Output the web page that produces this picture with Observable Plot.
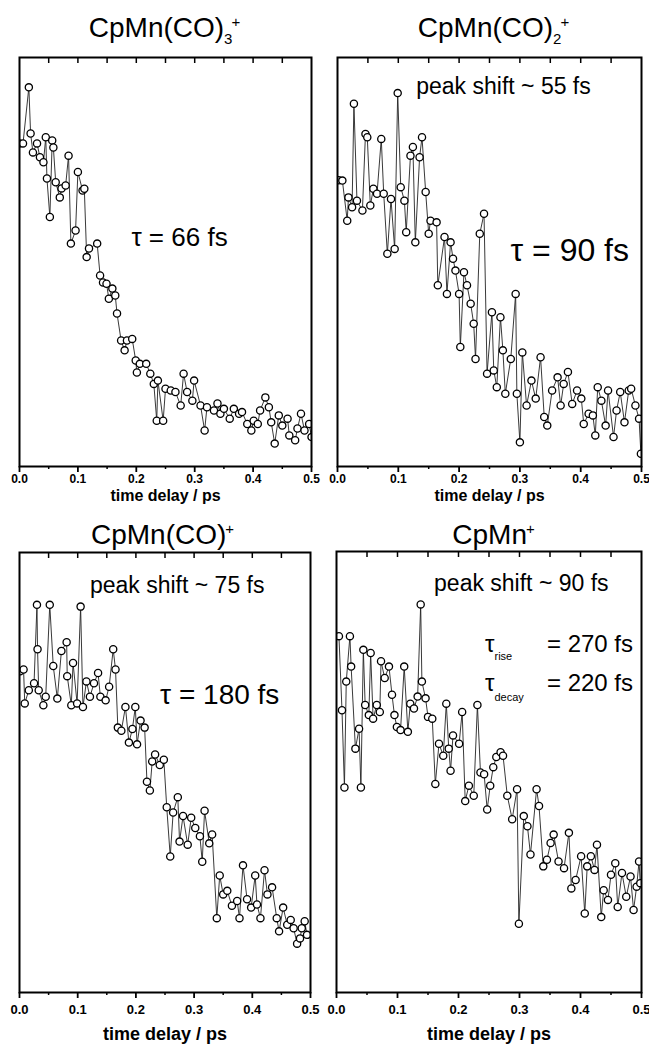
<!DOCTYPE html>
<html><head><meta charset="utf-8">
<script src="https://cdn.jsdelivr.net/npm/d3@7"></script>
<script src="https://cdn.jsdelivr.net/npm/@observablehq/plot@0.6"></script>
<style>
body{margin:0;background:#fff;}
#wrap{position:relative;width:649px;height:1053px;font-family:"Liberation Sans",Arial,sans-serif;color:#000;}
.title{position:absolute;width:325px;text-align:center;font-size:28px;line-height:1;white-space:nowrap;}
.title sub,.title sup{font-size:15px;line-height:0;}
.title sup{margin-left:-1px;}
.panel{position:absolute;}
</style></head><body><div id="wrap"></div>
<script>
// ---- data (signal in arbitrary units, 0 = bottom of frame, 100 = top) ----
const xLabel = "time delay / ps";
const majorTicks = [0, 0.1, 0.2, 0.3, 0.4, 0.5];
const minorTicks = [0.05, 0.15, 0.25, 0.35, 0.45];
const topTicks = [0.05, 0.1, 0.15, 0.2, 0.25, 0.3, 0.35, 0.4, 0.45];

// CpMn(CO)3+
const t1 = [0.000,0.006,0.016,0.019,0.023,0.030,0.035,0.041,0.045,0.047,0.052,0.056,0.058,0.062,0.069,0.072,0.079,0.084,0.088,0.096,0.100,0.108,0.111,0.115,0.119,0.133,0.138,0.143,0.149,0.153,0.159,0.164,0.167,0.174,0.180,0.184,0.193,0.199,0.201,0.206,0.217,0.224,0.230,0.235,0.237,0.246,0.250,0.259,0.267,0.276,0.281,0.287,0.296,0.299,0.310,0.317,0.321,0.333,0.339,0.344,0.350,0.360,0.367,0.376,0.381,0.390,0.397,0.401,0.408,0.412,0.421,0.427,0.431,0.437,0.444,0.450,0.459,0.462,0.472,0.476,0.482,0.488,0.496,0.500];
const v1 = [79,79,92.7,81.4,76.8,79,75.6,74.4,80.5,70.4,61,79.7,78,69.5,65.8,68,68.7,76,54.5,57.7,72,67.5,67.9,51.2,53.3,54.5,46.7,45,44.7,41,43.5,41.8,37.4,30.8,28.4,30.8,31.2,25.9,23,25.1,25.1,22.7,20.2,11.2,21,11.2,19,18.6,18.2,14.9,22.7,18.2,16.1,21,14.9,8.8,14.5,13.7,15.4,12.9,14.1,11.7,14.1,12.9,13.3,10.4,8.8,11.2,10.4,13.7,16.9,14.5,10.8,5.6,12.5,10,11.7,7.6,6.4,9.3,12.9,8.8,10.4,7.2];

// CpMn(CO)2+
const t2 = [0.002,0.008,0.016,0.018,0.024,0.027,0.032,0.041,0.046,0.049,0.054,0.059,0.065,0.072,0.076,0.082,0.088,0.094,0.099,0.104,0.110,0.113,0.120,0.124,0.128,0.135,0.139,0.145,0.150,0.153,0.163,0.165,0.176,0.180,0.186,0.190,0.194,0.200,0.202,0.208,0.213,0.219,0.224,0.227,0.234,0.241,0.246,0.254,0.257,0.262,0.268,0.272,0.276,0.285,0.293,0.295,0.300,0.304,0.311,0.319,0.326,0.334,0.340,0.345,0.353,0.362,0.367,0.372,0.379,0.386,0.394,0.401,0.405,0.413,0.420,0.424,0.428,0.434,0.441,0.445,0.454,0.459,0.465,0.472,0.479,0.483,0.490,0.496,0.499];
const v2 = [70,69.9,60.1,65.8,63.4,88.7,65,62.6,81.3,80.5,63.8,67.9,66.7,80.1,66.7,52,65.4,53.2,91.3,68.3,65,57.3,76,78.1,54.8,75.6,80.5,67.1,56.9,60.1,59.7,44.3,56.1,42.2,54.8,50.8,47.9,42.2,29.2,47.5,44.3,39.8,34.9,26.3,56.9,61.8,22.7,37.7,23.5,19.4,36.5,28.4,17.8,26.3,42.2,17.8,5.9,27.9,14.9,21,16.6,26.7,12.1,10,18.6,21.8,14.9,20.2,23.1,15.3,18.6,16.6,10.4,12.9,12.5,7.6,19.4,16.1,10,18.6,7.2,13.7,18.2,10.8,18.6,19,14.9,11.7,3.1];

// CpMn(CO)+
const t3 = [0.001,0.007,0.009,0.016,0.025,0.030,0.031,0.033,0.041,0.045,0.052,0.058,0.065,0.072,0.081,0.082,0.089,0.092,0.099,0.105,0.109,0.115,0.121,0.128,0.135,0.139,0.148,0.154,0.161,0.165,0.169,0.175,0.182,0.188,0.194,0.199,0.202,0.208,0.215,0.219,0.224,0.228,0.233,0.241,0.248,0.253,0.259,0.264,0.272,0.275,0.281,0.289,0.295,0.302,0.310,0.314,0.318,0.326,0.331,0.339,0.344,0.350,0.357,0.365,0.374,0.378,0.384,0.391,0.398,0.405,0.408,0.414,0.421,0.426,0.434,0.442,0.446,0.453,0.460,0.466,0.471,0.477,0.482,0.485,0.490,0.494];
const v3 = [73,73.4,65.7,68.7,70.3,88.1,78,68.7,65.3,67.2,88.1,74.2,66.8,77.6,79.6,71.9,65.3,74.9,65.7,87.7,64.9,70.7,67.2,70.3,72.6,67.2,66.4,69.5,78,73.4,60.2,59.5,64.9,56.8,59.9,64.9,56.4,61.8,60.2,47.9,45.9,52.5,54.1,51.7,52.9,42.1,30.9,40.9,44.4,34.3,40.1,33.6,39.7,37.4,35.5,29.7,41.3,33.9,35.9,16.9,26.6,22.3,23.1,19.7,20.8,16.9,28.9,21.2,19.3,26.6,20,16.9,27.8,22.3,23.9,16.9,13.9,19.3,15.4,16.5,14.6,11.1,12.3,14.6,16.2,13.1];

// CpMn+
const t4 = [0.004,0.009,0.013,0.016,0.022,0.024,0.031,0.037,0.040,0.044,0.047,0.053,0.056,0.060,0.066,0.071,0.073,0.079,0.086,0.091,0.095,0.099,0.105,0.111,0.117,0.121,0.127,0.133,0.138,0.140,0.146,0.150,0.157,0.162,0.168,0.175,0.180,0.184,0.187,0.191,0.201,0.206,0.211,0.217,0.225,0.231,0.236,0.242,0.247,0.252,0.257,0.262,0.269,0.273,0.280,0.288,0.296,0.299,0.307,0.313,0.318,0.328,0.332,0.339,0.345,0.351,0.356,0.364,0.373,0.381,0.385,0.392,0.401,0.407,0.411,0.417,0.423,0.427,0.434,0.438,0.445,0.450,0.457,0.461,0.468,0.475,0.482,0.487,0.492,0.496,0.498];
const v4 = [80.8,64,46.5,70.5,80.8,73.9,55.3,59.8,46.5,77.7,65.2,62.9,77,62.1,65.2,63.6,75.1,71.3,73.9,67.5,62.9,60.2,59.5,73.9,59.1,65.5,64.4,67.1,88,70.5,66.7,62.5,62.1,47.3,56.4,53.7,65.5,55.3,50.3,58.3,56.4,63.6,43.4,46.9,44.6,65.2,49.9,49.5,41.5,46.9,51.1,53.4,54.5,53.7,44.6,39.3,46.1,15.6,40,37.7,31.3,46.1,42.3,28.6,30.1,33.9,35.8,29.7,28.2,36.2,23.6,25.5,30.9,17.9,28.6,30.9,27.8,33.5,17.1,23.2,21,26.7,29.3,19.4,27.1,21.7,26.3,18.7,24,29.7,24.8];

const titles = [
  {html: "CpMn(CO)<sub>3</sub><sup>+</sup>", left: 2, top: 14},
  {html: "CpMn(CO)<sub>2</sub><sup>+</sup>", left: 331, top: 14},
  {html: "CpMn(CO)<sup>+</sup>", left: 0, top: 521},
  {html: "CpMn<sup>+</sup>", left: 331, top: 521}
];

const notes1 = [{x:0.274, y:56, text:"τ = 66 fs", size:26, anchor:"middle"}];
const notes2 = [{x:0.273, y:92.9, text:"peak shift ~ 55 fs", size:23, anchor:"middle"},
                {x:0.382, y:52.8, text:"τ = 90 fs", size:32, anchor:"middle"}];
const notes3 = [{x:0.271, y:92.5, text:"peak shift ~ 75 fs", size:23, anchor:"middle"},
                {x:0.344, y:67.5, text:"τ = 180 fs", size:28, anchor:"middle"}];
const notes4 = [{x:0.303, y:92.7, text:"peak shift ~ 90 fs", size:23, anchor:"middle"},
                {x:0.251, y:78.9, text:"τ", size:24, anchor:"middle"},
                {x:0.259, y:76.2, text:"rise", size:11, anchor:"start"},
                {x:0.345, y:78.9, text:"= 270 fs", size:24, anchor:"start"},
                {x:0.251, y:70.1, text:"τ", size:24, anchor:"middle"},
                {x:0.259, y:67.0, text:"decay", size:11, anchor:"start"},
                {x:0.345, y:70.1, text:"= 220 fs", size:24, anchor:"start"}];

const panels = [
  {t:t1, v:v1, notes:notes1, left:0,   top:45,  w:325, h:470, ml:19, mr:14, mt:12, mb:49, tickFs:12, tickPad:2, labFs:16, labDy:34},
  {t:t2, v:v2, notes:notes2, left:325, top:45,  w:324, h:470, ml:12, mr:8,  mt:12, mb:49, tickFs:12, tickPad:2, labFs:16, labDy:34},
  {t:t3, v:v3, notes:notes3, left:0,   top:540, w:325, h:510, ml:19, mr:15, mt:12, mb:58, tickFs:13, tickPad:6, labFs:18, labDy:47},
  {t:t4, v:v4, notes:notes4, left:325, top:539, w:324, h:511, ml:11, mr:8,  mt:12, mb:58, tickFs:13, tickPad:6, labFs:18, labDy:47}
];

const font = '"Liberation Sans", Arial, sans-serif';
const wrap = document.getElementById("wrap");

for (const p of panels) {
  const data = p.t.map((t, i) => ({t, v: p.v[i]}));
  const chart = Plot.plot({
    width: p.w, height: p.h,
    marginLeft: p.ml, marginRight: p.mr, marginTop: p.mt, marginBottom: p.mb,
    x: {domain: [0, 0.5]},
    y: {domain: [0, 100], axis: null},
    style: {fontFamily: font, background: "transparent", overflow: "visible", color: "#000"},
    marks: [
      Plot.line(data, {x: "t", y: "v", stroke: "#222", strokeWidth: 0.9, clip: true}),
      Plot.dot(data, {x: "t", y: "v", r: 3.6, stroke: "#000", strokeWidth: 1.3, fill: "white", clip: true}),
      Plot.frame({stroke: "#000", strokeWidth: 2}),
      Plot.axisX({ticks: majorTicks, tickSize: 6, tickPadding: p.tickPad, tickFormat: d3.format(".1f"),
                  fontSize: p.tickFs, fontWeight: "bold", label: null, strokeWidth: 1.8}),
      Plot.axisX({ticks: minorTicks, tickSize: 3, text: null, label: null, strokeWidth: 1.5}),
      Plot.axisX({anchor: "top", ticks: topTicks, tickSize: -5, text: null, label: null, strokeWidth: 1.5}),
      Plot.text([xLabel], {frameAnchor: "bottom", dy: p.labDy, text: d => d, fontSize: p.labFs, fontWeight: "bold"}),
      Plot.text(p.notes.filter(n => n.anchor === "middle"), {x: "x", y: "y", text: "text", fontSize: d => d.size, textAnchor: "middle"}),
      Plot.text(p.notes.filter(n => n.anchor === "start"), {x: "x", y: "y", text: "text", fontSize: d => d.size, textAnchor: "start"})
    ]
  });
  chart.classList.add("panel");
  chart.style.left = p.left + "px";
  chart.style.top = p.top + "px";
  wrap.appendChild(chart);
}

for (const t of titles) {
  const d = document.createElement("div");
  d.className = "title";
  d.innerHTML = t.html;
  d.style.left = t.left + "px";
  d.style.top = t.top + "px";
  wrap.appendChild(d);
}
</script></body></html>
